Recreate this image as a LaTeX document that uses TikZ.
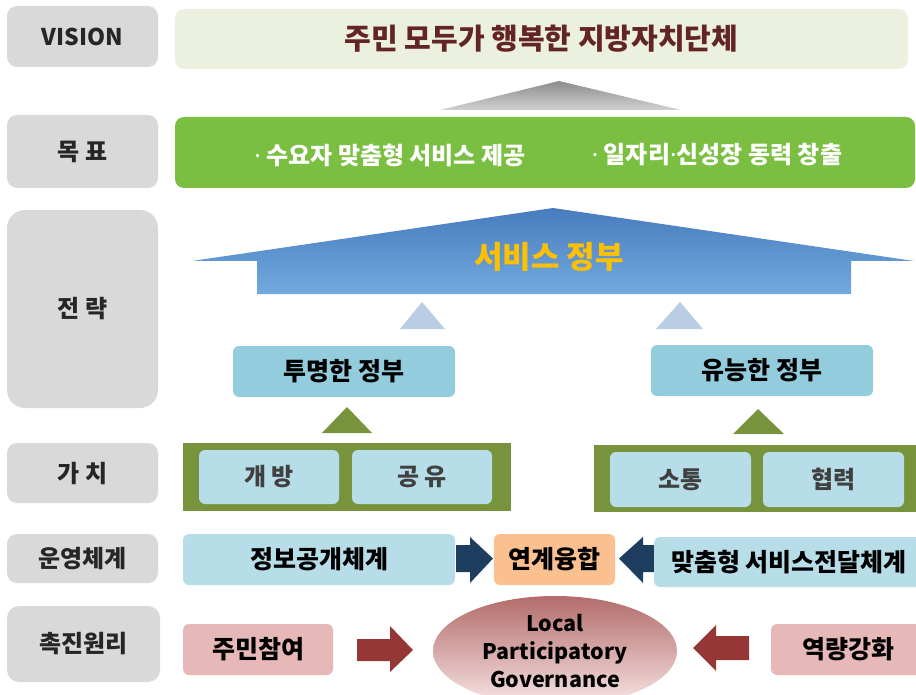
\documentclass[tikz,border=0pt]{standalone}
\usepackage{fontspec}
\setmainfont{Noto Sans CJK KR}
\newfontfamily\latinf{Noto Sans}
\usetikzlibrary{shapes.geometric}
\definecolor{lgray}{RGB}{217,217,217}
\definecolor{visfill}{RGB}{235,241,222}
\definecolor{vistext}{RGB}{99,37,35}
\definecolor{goalg}{RGB}{122,190,66}
\definecolor{roofT}{RGB}{72,124,190}
\definecolor{roofB}{RGB}{114,170,222}
\definecolor{gold}{RGB}{255,192,0}
\definecolor{ltri}{RGB}{185,205,229}
\definecolor{strat}{RGB}{147,205,221}
\definecolor{olive}{RGB}{119,147,60}
\definecolor{valb}{RGB}{183,222,232}
\definecolor{navy}{RGB}{31,61,94}
\definecolor{orng}{RGB}{250,192,144}
\definecolor{pinkb}{RGB}{230,185,184}
\definecolor{redar}{RGB}{149,55,53}
\definecolor{ellT}{RGB}{178,108,106}
\definecolor{ellB}{RGB}{248,230,230}
\newcommand\myfs[1]{\fontsize{#1pt}{#1pt}\selectfont}
\newcommand\mydot{{\latinf\bfseries ·}}
\begin{document}
\begin{tikzpicture}[x=1pt,y=-1pt,
  lbl/.style={fill=lgray, rounded corners=10pt, inner sep=0pt, text=black!85, font=\bfseries\myfs{24}},
  box/.style={rounded corners=6pt, inner sep=0pt, text=black, font=\bfseries\myfs{25}},
  valbox/.style={fill=valb, rounded corners=6pt, inner sep=0pt, text=black!75, font=\bfseries\myfs{24}},
]
\clip (0,0) rectangle (916,695);
% left labels
\node[lbl, minimum width=151pt, minimum height=61pt, font=\bfseries\myfs{23}] (lvis) at (82.5,36.5) {VISION};
\node[lbl, minimum width=151pt, minimum height=73pt] (lgoal) at (82.5,151.5) {목 표};
\node[lbl, minimum width=151pt, minimum height=198pt, rounded corners=18pt] (lstr) at (82.5,309) {전 략};
\node[lbl, minimum width=151pt, minimum height=60pt] (lval) at (82.5,473) {가 치};
\node[lbl, minimum width=151pt, minimum height=49pt] (lop) at (82.5,558.5) {운영체계};
\node[lbl, minimum width=153pt, minimum height=76pt, rounded corners=12pt] (lpro) at (83.5,644) {촉진원리};
% vision
\node[fill=visfill, rounded corners=9pt, inner sep=0pt, minimum width=733pt, minimum height=60pt,
      text=vistext, font=\bfseries\myfs{29}] (vis) at (541.5,39) {주민 모두가 행복한 지방자치단체};
% gray triangle
\shade[top color=black!45, bottom color=black!18] (440,110) -- (559,81) -- (681,110) -- cycle;
% goal
\node[fill=goalg, rounded corners=9pt, minimum width=740pt, minimum height=71pt, inner sep=0pt] (goal) at (545,152.5) {};
\node[text=white, font=\bfseries\myfs{24}, inner sep=0pt] (g1) at (390,155) {\mydot\ 수요자 맞춤형 서비스 제공};
\node[text=white, font=\bfseries\myfs{24}, inner sep=0pt] (g2) at (717,155) {\mydot\ 일자리\mydot 신성장 동력 창출};
% roof
\shade[top color=roofT, bottom color=roofB] (192,261) -- (553,208) -- (914,261) -- (851,261) -- (851,294) -- (257,294) -- (257,261) -- cycle;
\node[text=gold, font=\bfseries\myfs{31}, inner sep=0pt] (serv) at (549,257) {서비스 정부};
% light triangles
\fill[ltri] (400,329) -- (422,302) -- (445,329) -- cycle;
\fill[ltri] (656,329) -- (680,302) -- (703,329) -- cycle;
% strategy boxes
\node[box, fill=strat, minimum width=222pt, minimum height=51pt] (s1) at (344,371.5) {투명한 정부};
\node[box, fill=strat, minimum width=222pt, minimum height=51pt] (s2) at (762,370.5) {유능한 정부};
% green triangles
\fill[olive] (322,433) -- (347,407) -- (372,433) -- cycle;
\fill[olive] (733,434) -- (758,409) -- (784,434) -- cycle;
% value frames
\fill[olive] (183,443) rectangle (511,511);
\fill[olive] (594,445) rectangle (920,512);
\node[valbox, minimum width=140pt, minimum height=54pt] (v1) at (269,477) {개 방};
\node[valbox, minimum width=140pt, minimum height=54pt] (v2) at (422,477) {공 유};
\node[valbox, minimum width=141pt, minimum height=55pt] (v3) at (680.5,479.5) {소통};
\node[valbox, minimum width=141pt, minimum height=55pt] (v4) at (833.5,479.5) {협력};
% operation
\fill[navy] (456,545) -- (470,545) -- (470,537) -- (493,558.5) -- (470,583) -- (470,572) -- (456,572) -- cycle;
\fill[navy] (656,545) -- (643,545) -- (643,537) -- (619,558.5) -- (643,583) -- (643,572) -- (656,572) -- cycle;
\node[box, fill=valb, minimum width=272pt, minimum height=51pt] (o1) at (319,559.5) {정보공개체계};
\node[box, fill=orng, minimum width=121pt, minimum height=51pt] (o2) at (554.5,559.5) {연계융합};
\node[box, fill=valb, minimum width=270pt, minimum height=50pt] (o3) at (789,562) {맞춤형 서비스전달체계};
% promotion
\fill[redar] (357,639) -- (390,639) -- (390,626) -- (413,650) -- (390,672) -- (390,661) -- (357,661) -- cycle;
\fill[redar] (749,636) -- (716,636) -- (716,625) -- (693,648) -- (716,671) -- (716,660) -- (749,660) -- cycle;
\node[box, fill=pinkb, minimum width=150pt, minimum height=51pt] (p1) at (258,649.5) {주민참여};
\node[box, fill=pinkb, minimum width=154pt, minimum height=51pt] (p2) at (848,649.5) {역량강화};
\node[ellipse, top color=ellT, bottom color=ellB, minimum width=244pt, minimum height=110pt, inner sep=0pt,
      align=center, font=\bfseries\fontsize{21.5pt}{28pt}\selectfont] (lpg) at (555,651) {Local\\Participatory\\Governance};
\end{tikzpicture}
\end{document}
